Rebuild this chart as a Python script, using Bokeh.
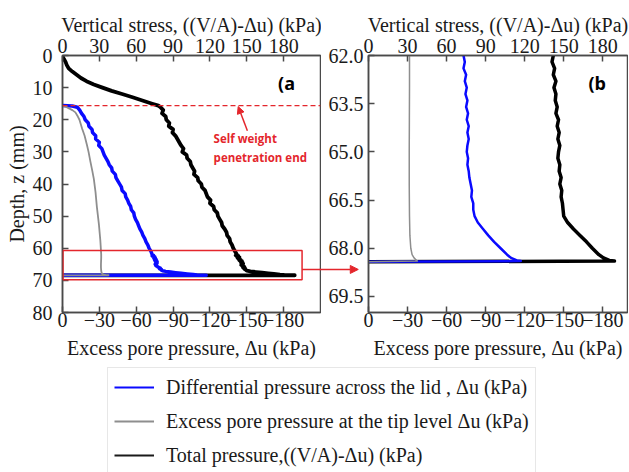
from bokeh.plotting import figure
from bokeh.models import (LinearAxis, FixedTicker, Range1d, Span, BoxAnnotation, Arrow,
                          NormalHead, Label, Legend, LegendItem, PrintfTickFormatter,
                          ColumnDataSource)
from bokeh.layouts import row, column
from bokeh.embed import file_html
from bokeh.resources import INLINE

# ---------------- data ----------------
total_depth = [0.3, 1, 2, 3, 4, 5, 6, 7, 8, 9, 10, 11, 12, 13, 14, 15, 15.6,
               16, 17, 18, 19, 20, 21, 22, 23, 24, 25, 26, 27, 28, 29, 30, 31, 32, 33, 34, 35,
               36, 37, 38, 39, 40, 41, 42, 43, 44, 45, 46, 47, 48, 49, 50, 51, 52, 53, 54, 55,
               56, 57, 58, 59, 60, 61,
               62.0, 62.2, 62.4, 62.6, 62.8, 63.0, 63.2, 63.4, 63.6, 63.8, 64.0, 64.2, 64.4,
               64.6, 64.8, 65.0, 65.2, 65.4, 65.6, 65.8, 66.0, 66.2, 66.4, 66.6, 66.8, 67.0,
               67.2, 67.4, 67.6, 67.8, 68.0, 68.2, 68.3, 68.38, 68.4, 68.42]
total_stress = [0, 1, 2.5, 3.5, 5, 8, 11.5, 15, 19.5, 25.5, 32.5, 40, 48.5, 57, 65, 73, 78,
                79.5, 82, 81, 84, 84.5, 87, 86.5, 90, 89.5, 92, 93.5, 95, 96.5, 98.5, 97.5, 101,
                101.5, 104, 104.5, 106, 107.5, 107, 110, 110.5, 113, 113.5, 116, 117, 118, 120.5,
                120, 123, 123.5, 126, 126.5, 128, 129.5, 130, 132, 133.5, 134, 136, 136.5, 138,
                139, 140.5,
                142, 141, 143, 142, 144, 142.5, 144, 143.5, 145, 144, 146, 145, 146.5, 145.5,
                147, 146, 145.5, 147, 146.5, 148, 147, 148.5, 148, 149, 149.5, 150, 153, 157.5,
                162.5, 167.5, 172, 177, 180.5, 185, 189, 0]

diff_depth = [15.6, 15.7, 16.1,
              17, 18, 19, 20, 21, 22, 23, 24, 25, 26, 27, 28, 29, 30, 31, 32, 33, 34, 35, 36,
              37, 38, 39, 40, 41, 42, 43, 44, 45, 46, 47, 48, 49, 50, 51, 52, 53, 54, 55, 56,
              57, 58, 59, 60, 61,
              62.0, 62.2, 62.4, 62.6, 62.8, 63.0, 63.2, 63.4, 63.6, 63.8, 64.0, 64.2, 64.4,
              64.6, 64.8, 65.0, 65.2, 65.4, 65.6, 65.8, 66.0, 66.2, 66.4, 66.6, 66.8, 67.0,
              67.2, 67.4, 67.6, 67.8, 68.0, 68.2, 68.3, 68.38, 68.4, 68.42]
diff_pressure = [0, 8, 12,
                 14, 15.5, 17.5, 18.5, 21, 21.5, 24, 24.5, 27, 27, 30, 29.5, 32, 33, 34, 35.5,
                 37, 38, 40, 40.5, 43, 43.5, 45, 46.5, 48, 48.5, 51, 51.5, 53, 54, 55.5, 56, 58,
                 58.5, 59.5, 61, 62, 63, 64.5, 65.5, 67, 68, 69.5, 70.5, 72,
                 73, 74, 73, 75, 74, 75.5, 74.5, 76, 75, 76.5, 75.5, 77, 76, 77, 76, 75.5, 76.5,
                 76, 77, 77.5, 78.5, 79.5, 79, 80.5, 80.5, 81.5, 84, 88, 92, 96.5, 101.5, 106.5,
                 109.5, 114, 117, 0]

tip_depth = [15.6, 16, 17, 17.7, 19, 20, 22.8, 25, 28, 30, 33.2, 36, 38.4, 42.6, 47.2, 52.4,
             57.6, 62, 63, 64, 65, 66, 67, 67.6, 68, 68.2, 68.3, 68.38, 68.4, 68.42]
tip_pressure = [0, 3, 8, 10.5, 12.5, 13.8, 16, 18, 20, 21.2, 22.8, 24.3, 25.5, 26.9, 28, 29.6,
                30.8, 31.5, 31.5, 31.4, 31.3, 31.3, 31.5, 31.8, 32.5, 33.5, 35, 37, 37.5, 0]

stress_ticks = [0, 30, 60, 90, 120, 150, 180]
pore_tick_labels = ["0", "\u221230", "\u221260", "\u221290", "\u2212120", "\u2212150", "\u2212180"]
depth_ticks_a = [0, 10, 20, 30, 40, 50, 60, 70, 80]
depth_ticks_b = [62.0, 63.5, 65.0, 66.5, 68.0, 69.5]

series_labels = ["Differential pressure across the lid , \u0394u (kPa)",
                 "Excess pore pressure at the tip level \u0394u (kPa)",
                 "Total pressure,((V/A)-\u0394u) (kPa)"]

TOP_LABEL = "Vertical stress, ((V/A)-\u0394u) (kPa)"
BOTTOM_LABEL = "Excess pore pressure, \u0394u (kPa)"
DEPTH_LABEL = "Depth, z (mm)"

# ---------------- styling ----------------
SERIF = "Liberation Serif"
AX_COL = "#4a4a4a"
TXT_COL = "#1a1a1a"
RED = "#e4262c"
BLUE = "#0a0aff"
GREY = "#8e8e8e"
BLACK = "#000000"

src_total = ColumnDataSource(dict(z=total_depth, v=total_stress))
src_diff = ColumnDataSource(dict(z=diff_depth, v=diff_pressure))
src_tip = ColumnDataSource(dict(z=tip_depth, v=tip_pressure))


def style_axis(ax, standoff):
    ax.axis_line_color = AX_COL
    ax.axis_line_width = 1.5
    ax.major_tick_line_color = AX_COL
    ax.major_tick_line_width = 1.5
    ax.major_tick_in = 6
    ax.major_tick_out = 0
    ax.minor_tick_line_color = None
    ax.minor_tick_in = 0
    ax.minor_tick_out = 0
    ax.major_label_text_font = SERIF
    ax.major_label_text_font_size = "20px"
    ax.major_label_text_color = TXT_COL
    ax.major_label_standoff = standoff
    ax.axis_label_text_font = SERIF
    ax.axis_label_text_font_size = "20px"
    ax.axis_label_text_font_style = "normal"
    ax.axis_label_text_color = TXT_COL


def make_panel(xmax, yrange, width, border_left, border_right, widths):
    p = figure(width=width, height=364, output_backend="svg", toolbar_location=None,
               x_range=Range1d(0, xmax), y_range=Range1d(*yrange),
               min_border_left=border_left, min_border_right=border_right,
               min_border_top=55, min_border_bottom=52)
    p.grid.visible = False
    p.outline_line_color = AX_COL
    p.outline_line_width = 1.5
    p.background_fill_color = "white"

    xb = p.xaxis[0]
    xb.ticker = FixedTicker(ticks=stress_ticks)
    xb.major_label_overrides = {t: lab for t, lab in zip(stress_ticks, pore_tick_labels)}
    xb.axis_label = BOTTOM_LABEL
    style_axis(xb, 0)
    xb.axis_label_standoff = 7

    xt = LinearAxis(ticker=FixedTicker(ticks=stress_ticks), axis_label=TOP_LABEL)
    style_axis(xt, 3)
    xt.axis_label_standoff = 0
    p.add_layout(xt, "above")

    wb, wd, wt = widths
    p.line("v", "z", source=src_total, color=BLACK, line_width=wb, line_join="round")
    p.line("v", "z", source=src_diff, color=BLUE, line_width=wd, line_join="round")
    p.line("v", "z", source=src_tip, color=GREY, line_width=wt, line_join="round")
    return p


# ---------------- panel (a) ----------------
A_MAX = 210
pa = make_panel(A_MAX, (80, 0), 321, 62, 1, (3.8, 3.5, 1.8))
pa.border_fill_color = "white"
ya = pa.yaxis[0]
ya.ticker = FixedTicker(ticks=depth_ticks_a)
ya.axis_label = DEPTH_LABEL
style_axis(ya, 10)
ya.axis_label_standoff = 2

pa.add_layout(Span(location=15.6, dimension="width", line_color=RED, line_width=1.2,
                   line_dash="5 3"))
pa.add_layout(BoxAnnotation(left=0.4, right=195, top=60.7, bottom=69.8, fill_alpha=0,
                            line_color=RED, line_width=1.5, line_alpha=1))
pa.add_layout(Arrow(x_start=150.5, y_start=23.4, x_end=143, y_end=15.9,
                    line_color=RED, line_width=1.5,
                    end=NormalHead(size=7, fill_color=RED, line_color=RED)))
pa.add_layout(Label(x=123, y=23.6, text="Self weight\npenetration end", text_align="left",
                    text_baseline="top", text_font="Open Sans", text_font_style="bold",
                    text_font_size="11.5px", text_color=RED, text_line_height=1.25))
pa.add_layout(Label(x=175.5, y=8.6, text="(a", text_align="left", text_baseline="middle",
                    text_font="Open Sans", text_font_style="bold", text_font_size="18px",
                    text_color=BLACK))
# connector arrow, part 1: from the red box to the edge of panel a
pa.add_layout(Arrow(x_start=195, y_start=66.6, x_end=215, y_end=66.6, line_color=RED,
                    line_width=1.5, end=None))

# ---------------- transparent strip carrying the rest of the connector arrow ----------
# same stress/depth units as panel a, continued to the right of its box
pc = figure(width=40, height=364, output_backend="svg", toolbar_location=None,
            x_range=Range1d(209.3, 241.9), y_range=Range1d(80, 0),
            x_axis_location=None, y_axis_location=None,
            min_border_left=0, min_border_right=0, min_border_top=55, min_border_bottom=52)
pc.grid.visible = False
pc.outline_line_color = None
pc.background_fill_alpha = 0
pc.border_fill_alpha = 0
pc.margin = (0, 0, 0, -2)
pc.add_layout(Arrow(x_start=209.3, y_start=66.6, x_end=240.9, y_end=66.6, line_color=RED,
                    line_width=1.5, end=NormalHead(size=8, fill_color=RED, line_color=RED)))

# ---------------- panel (b) ----------------
pb = make_panel(199, (70, 62), 308, 48, 1, (3.5, 2.5, 1.5))
pb.border_fill_alpha = 0
pb.margin = (0, 0, 0, -39)
yb = pb.yaxis[0]
yb.ticker = FixedTicker(ticks=depth_ticks_b)
yb.formatter = PrintfTickFormatter(format="%.1f")
style_axis(yb, 5)
pb.add_layout(Label(x=169, y=62.85, text="(b", text_align="left", text_baseline="middle",
                    text_font="Open Sans", text_font_style="bold", text_font_size="18px",
                    text_color=BLACK))

# ---------------- legend ----------------
pl = figure(width=629, height=108, output_backend="svg", toolbar_location=None,
            x_range=Range1d(-30, -20), y_range=Range1d(-30, -20),
            min_border_left=0, min_border_right=0, min_border_top=0, min_border_bottom=0)
pl.axis.visible = False
pl.grid.visible = False
pl.outline_line_color = None
r_d = pl.line("v", "z", source=src_diff, color=BLUE, line_width=2)
r_t = pl.line("v", "z", source=src_tip, color=GREY, line_width=2)
r_b = pl.line("v", "z", source=src_total, color="#1a1a1a", line_width=2)
leg = Legend(items=[LegendItem(label=series_labels[0], renderers=[r_d]),
                    LegendItem(label=series_labels[1], renderers=[r_t]),
                    LegendItem(label=series_labels[2], renderers=[r_b])],
             location=(107, -3), padding=6, spacing=8, margin=0,
             glyph_width=40, glyph_height=26, label_height=26, label_standoff=12,
             label_text_font=SERIF, label_text_font_size="20px", label_text_color=TXT_COL,
             border_line_color="#cfcfcf", border_line_width=1, background_fill_alpha=1)
pl.add_layout(leg, "center")

layout = column(row(pa, pc, pb), pl)
open("out.html", "w").write(file_html(layout, INLINE))
